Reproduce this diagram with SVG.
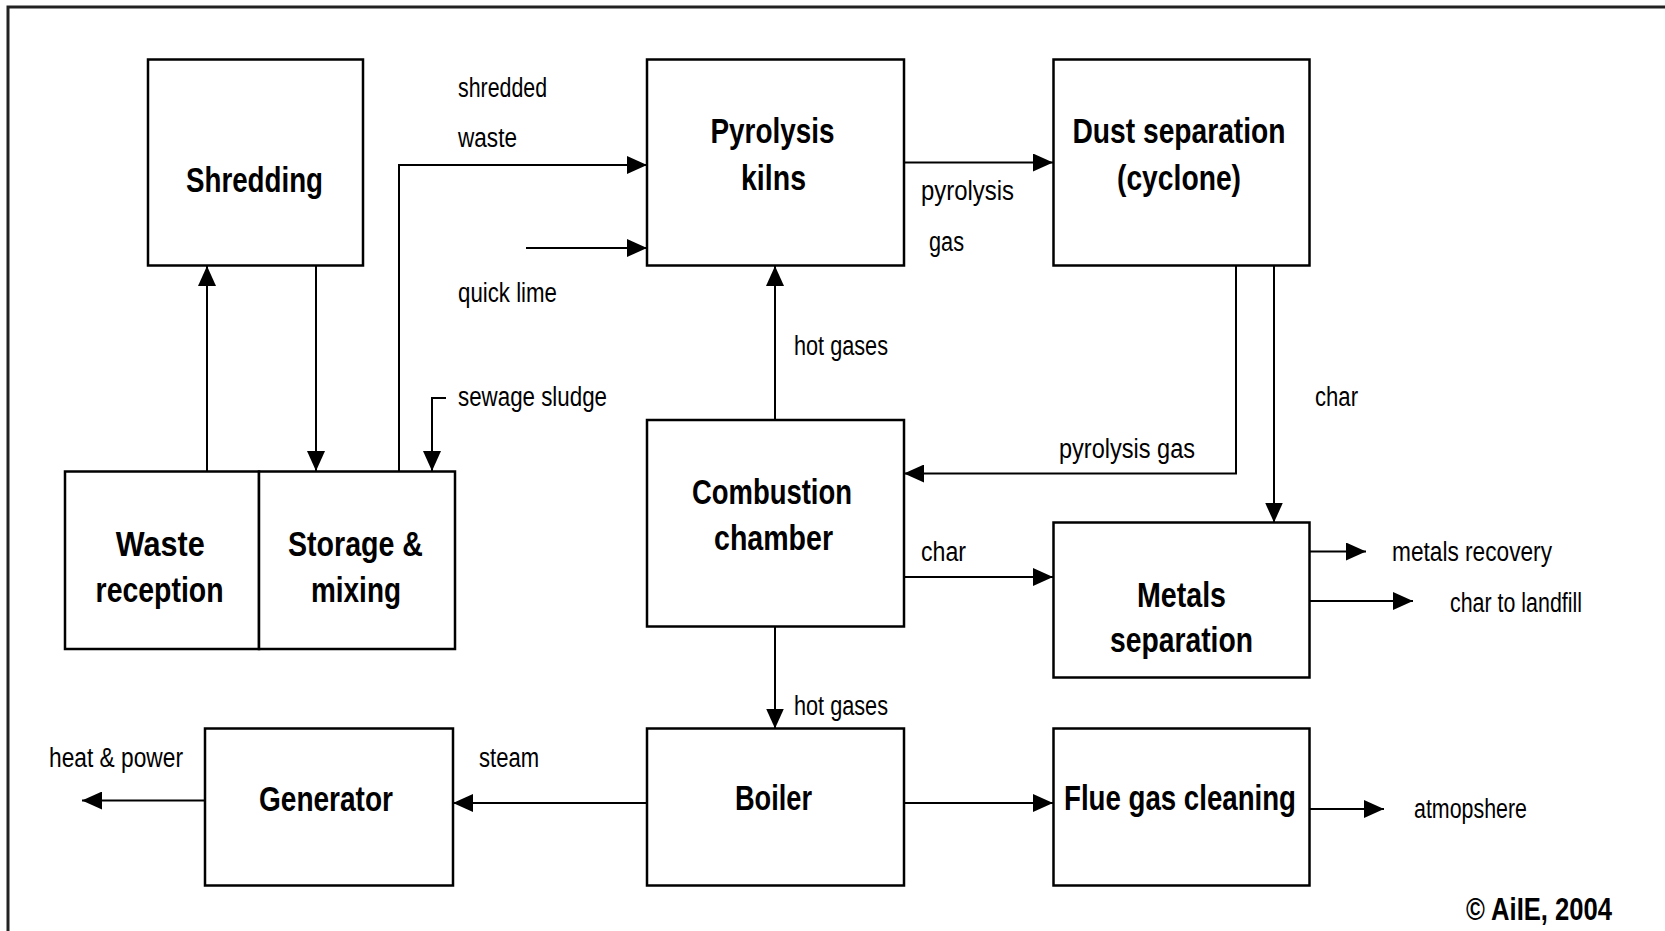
<svg xmlns="http://www.w3.org/2000/svg" width="1665" height="931" viewBox="0 0 1665 931">
<defs>
<marker id="ah" markerUnits="userSpaceOnUse" viewBox="0 0 20 18" refX="20" refY="9" markerWidth="20" markerHeight="18" orient="auto">
<path d="M0,0 L20,9 L0,18 z" fill="#000"/>
</marker>
<style>
.box{fill:#fff;stroke:#000;stroke-width:2.5}
.nl{font-family:"Liberation Sans",Arial,sans-serif;font-weight:bold;font-size:35px;fill:#000}
.lb{font-family:"Liberation Sans",Arial,sans-serif;font-size:27px;fill:#000}
.cn{fill:none;stroke:#000;stroke-width:2;marker-end:url(#ah)}
</style>
</defs>
<rect x="0" y="0" width="1665" height="931" fill="#fff"/>
<rect x="8" y="7" width="1720" height="1000" fill="none" stroke="#222" stroke-width="3"/>

<g id="connectors">
<path class="cn" d="M207,471 V266"/>
<path class="cn" d="M316,266 V471"/>
<path class="cn" d="M399,471 V165 H647"/>
<path class="cn" d="M526,248 H647"/>
<path class="cn" d="M446,398 H432 V471"/>
<path class="cn" d="M904,162.5 H1053"/>
<path class="cn" d="M775,420 V266"/>
<path class="cn" d="M1236,266 V473.5 H904"/>
<path class="cn" d="M1274,266 V522.5"/>
<path class="cn" d="M904,577 H1053"/>
<path class="cn" d="M1310,551.5 H1366"/>
<path class="cn" d="M1310,601 H1413"/>
<path class="cn" d="M775,626.5 V728.5"/>
<path class="cn" d="M647,803 H453"/>
<path class="cn" d="M205,800.5 H82"/>
<path class="cn" d="M904,803 H1053"/>
<path class="cn" d="M1310,809 H1384"/>
<text class="lb" x="458" y="97" textLength="89" lengthAdjust="spacingAndGlyphs">shredded</text>
<text class="lb" x="458" y="147" textLength="59" lengthAdjust="spacingAndGlyphs">waste</text>
<text class="lb" x="458" y="302" textLength="99" lengthAdjust="spacingAndGlyphs">quick lime</text>
<text class="lb" x="458" y="406" textLength="149" lengthAdjust="spacingAndGlyphs">sewage sludge</text>
<text class="lb" x="921" y="200" textLength="93" lengthAdjust="spacingAndGlyphs">pyrolysis</text>
<text class="lb" x="929" y="251" textLength="35" lengthAdjust="spacingAndGlyphs">gas</text>
<text class="lb" x="794" y="355" textLength="94" lengthAdjust="spacingAndGlyphs">hot gases</text>
<text class="lb" x="1059" y="458" textLength="136" lengthAdjust="spacingAndGlyphs">pyrolysis gas</text>
<text class="lb" x="1315" y="406" textLength="43" lengthAdjust="spacingAndGlyphs">char</text>
<text class="lb" x="921" y="561" textLength="45" lengthAdjust="spacingAndGlyphs">char</text>
<text class="lb" x="1392" y="561" textLength="160" lengthAdjust="spacingAndGlyphs">metals recovery</text>
<text class="lb" x="1450" y="612" textLength="132" lengthAdjust="spacingAndGlyphs">char to landfill</text>
<text class="lb" x="794" y="715" textLength="94" lengthAdjust="spacingAndGlyphs">hot gases</text>
<text class="lb" x="49" y="767" textLength="134" lengthAdjust="spacingAndGlyphs">heat &amp; power</text>
<text class="lb" x="479" y="767" textLength="60" lengthAdjust="spacingAndGlyphs">steam</text>
<text class="lb" x="1414" y="818" textLength="113" lengthAdjust="spacingAndGlyphs">atmopshere</text>
</g>

<g id="shredding">
<rect class="box" x="148" y="59.5" width="215" height="206"/>
<text class="nl" x="186" y="192" textLength="137" lengthAdjust="spacingAndGlyphs">Shredding</text>
</g>
<g id="pyrolysis-kilns">
<rect class="box" x="647" y="59.5" width="257" height="206"/>
<text class="nl" x="710.5" y="143" textLength="124" lengthAdjust="spacingAndGlyphs">Pyrolysis</text>
<text class="nl" x="741" y="190" textLength="65" lengthAdjust="spacingAndGlyphs">kilns</text>
</g>
<g id="dust-separation">
<rect class="box" x="1053.5" y="59.5" width="256" height="206"/>
<text class="nl" x="1072.5" y="143" textLength="213" lengthAdjust="spacingAndGlyphs">Dust separation</text>
<text class="nl" x="1117" y="190" textLength="124" lengthAdjust="spacingAndGlyphs">(cyclone)</text>
</g>
<g id="waste-reception">
<rect class="box" x="65" y="471.5" width="194" height="177.5"/>
<text class="nl" x="115.7" y="556" textLength="89" lengthAdjust="spacingAndGlyphs">Waste</text>
<text class="nl" x="95.6" y="602" textLength="128" lengthAdjust="spacingAndGlyphs">reception</text>
</g>
<g id="storage-mixing">
<rect class="box" x="259" y="471.5" width="196" height="177.5"/>
<text class="nl" x="288" y="556" textLength="135" lengthAdjust="spacingAndGlyphs">Storage &amp;</text>
<text class="nl" x="311" y="602" textLength="90" lengthAdjust="spacingAndGlyphs">mixing</text>
</g>
<g id="combustion-chamber">
<rect class="box" x="647" y="420" width="257" height="206.5"/>
<text class="nl" x="692" y="504" textLength="160" lengthAdjust="spacingAndGlyphs">Combustion</text>
<text class="nl" x="714" y="550" textLength="119" lengthAdjust="spacingAndGlyphs">chamber</text>
</g>
<g id="metals-separation">
<rect class="box" x="1053.5" y="522.5" width="256" height="155"/>
<text class="nl" x="1137" y="607" textLength="89" lengthAdjust="spacingAndGlyphs">Metals</text>
<text class="nl" x="1110" y="652" textLength="143" lengthAdjust="spacingAndGlyphs">separation</text>
</g>
<g id="generator">
<rect class="box" x="205" y="728.5" width="248" height="157"/>
<text class="nl" x="259" y="811" textLength="134" lengthAdjust="spacingAndGlyphs">Generator</text>
</g>
<g id="boiler">
<rect class="box" x="647" y="728.5" width="257" height="157"/>
<text class="nl" x="735" y="810" textLength="77" lengthAdjust="spacingAndGlyphs">Boiler</text>
</g>
<g id="flue-gas-cleaning">
<rect class="box" x="1053.5" y="728.5" width="256" height="157"/>
<text class="nl" x="1064" y="810" textLength="232" lengthAdjust="spacingAndGlyphs">Flue gas cleaning</text>
</g>
<text class="nl" x="1466" y="920" style="font-size:32px" textLength="146" lengthAdjust="spacingAndGlyphs">© AiIE, 2004</text>
</svg>
